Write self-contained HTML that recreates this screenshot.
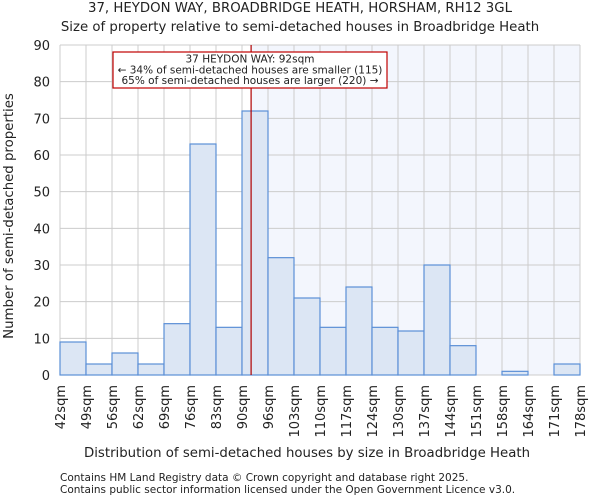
<!DOCTYPE html>
<html><head><meta charset="utf-8"><style>
body{margin:0;background:#fff;font-family:"DejaVu Sans","Liberation Sans",sans-serif}
svg text{font-family:"DejaVu Sans","Liberation Sans",sans-serif;fill:#222}
</style></head><body>
<svg id="c" width="600" height="500">
<text x="300" y="12" font-size="13.3" text-anchor="middle">37, HEYDON WAY, BROADBRIDGE HEATH, HORSHAM, RH12 3GL</text>
<text x="300" y="31" font-size="13.3" text-anchor="middle">Size of property relative to semi-detached houses in Broadbridge Heath</text>
<g id="plot"></g>
<text x="307" y="457" font-size="13.3" text-anchor="middle">Distribution of semi-detached houses by size in Broadbridge Heath</text>
<text transform="translate(13,216) rotate(-90)" font-size="13.3" text-anchor="middle">Number of semi-detached properties</text>
<text x="60" y="481" font-size="10.5">Contains HM Land Registry data © Crown copyright and database right 2025.</text>
<text x="60" y="493" font-size="10.5">Contains public sector information licensed under the Open Government Licence v3.0.</text>
</svg>
<script>
const binLabels=["42sqm","49sqm","56sqm","62sqm","69sqm","76sqm","83sqm","90sqm","96sqm","103sqm","110sqm","117sqm","124sqm","130sqm","137sqm","144sqm","151sqm","158sqm","164sqm","171sqm","178sqm"];
const counts=[9,3,6,3,14,63,13,72,32,21,13,24,13,12,30,8,0,1,0,3];
const yTicks=[0,10,20,30,40,50,60,70,80,90];
const markerBin=7.35;
const NS="http://www.w3.org/2000/svg";
const X0=60,X1=580,Y0=375,Y1=45,YMAX=90;
const bw=(X1-X0)/counts.length;
const xs=i=>X0+i*bw;
const ys=v=>Y0-(v/YMAX)*(Y0-Y1);
const g=document.getElementById('plot');
function el(t,a){const e=document.createElementNS(NS,t);for(const k in a)e.setAttribute(k,a[k]);g.appendChild(e);return e;}
const mx=xs(markerBin);
const sh=el('rect',{x:mx,y:Y1,width:X1-mx,height:Y0-Y1,fill:'#f3f6fd'});


yTicks.forEach(v=>{
 const l=el('line',{x1:X0,x2:X1,y1:ys(v),y2:ys(v),stroke:'#cccccc','stroke-width':1});
 
 
 const t=el('text',{x:X0-10,y:ys(v)+5,'font-size':13,'text-anchor':'end'});t.textContent=v;
 
 
});
binLabels.forEach((s,i)=>{
 const l=el('line',{x1:xs(i),x2:xs(i),y1:Y1,y2:Y0,stroke:'#cccccc','stroke-width':1});
 
 
 const t=el('text',{transform:`translate(${xs(i)+5},385) rotate(-90)`,'font-size':13,'text-anchor':'end'});t.textContent=s;
 
 
});
counts.forEach((c,i)=>{
 if(c<=0)return;
 const r=el('rect',{x:xs(i),y:ys(c),width:bw,height:Y0-ys(c),fill:'#dce6f4',stroke:'#5b8fd6','stroke-width':1.2});
 
 
});
const ml=el('line',{x1:mx,x2:mx,y1:Y1,y2:Y0,stroke:'#b00000','stroke-width':1.2});


const bx=el('rect',{x:113,y:52,width:274,height:36,fill:'#fff',stroke:'#c00000','stroke-width':1.2});


["37 HEYDON WAY: 92sqm","← 34% of semi-detached houses are smaller (115)","65% of semi-detached houses are larger (220) →"].forEach((s,i)=>{
 const t=el('text',{x:250,y:62.5+i*10.8,'font-size':10.5,'text-anchor':'middle'});t.textContent=s;
 
 
});
</script>
</body></html>
